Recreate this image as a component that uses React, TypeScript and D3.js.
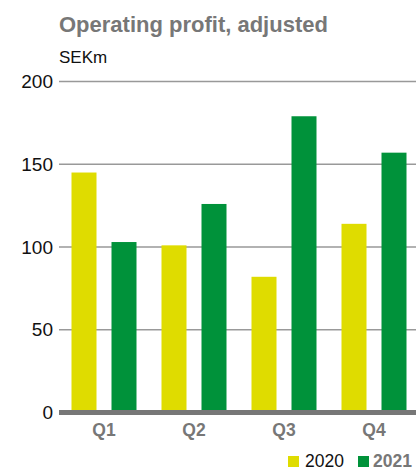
import React from "react";
import * as d3 from "d3";

const quarters = ["Q1", "Q2", "Q3", "Q4"];
const series = ["2020", "2021"];
const values2020 = [145, 101, 82, 114];
const values2021 = [103, 126, 179, 157];
const yTicks = [0, 50, 100, 150, 200];
const colors = ["#dfdc00", "#00923a"];

const W = 416;
const H = 470;

export default function App() {
  const x0 = d3.scaleBand<string>().domain(quarters).range([59, 419]).paddingInner(0).paddingOuter(0);
  const x1 = d3.scaleBand<string>().domain(series).range([12.5, 77.5]).paddingInner(0.375).paddingOuter(0);
  const y = d3.scaleLinear().domain([0, 200]).range([412.5, 81.5]);
  const data = [values2020, values2021];
  const font = "'Liberation Sans', Arial, Helvetica, sans-serif";

  return (
    <svg width={W} height={H} style={{ position: "absolute", left: 0, top: 0, display: "block", background: "#fff" }} fontFamily={font}>
      <text x={59} y={32} fontSize={22} fontWeight="bold" fill="#777">Operating profit, adjusted</text>
      <text x={59} y={63} fontSize={17} fill="#111">SEKm</text>
      {yTicks.filter((t) => t > 0).map((t) => (
        <line key={"g" + t} x1={59} x2={W} y1={y(t)} y2={y(t)} stroke="#999" strokeWidth={1.5} />
      ))}
      {yTicks.map((t) => (
        <text key={"t" + t} x={53} y={y(t)} dy="0.35em" textAnchor="end" fontSize={19} fill="#111">{t}</text>
      ))}
      {quarters.map((q, i) => (
        <g key={q} transform={`translate(${x0(q)},0)`}>
          {series.map((s, j) => (
            <rect key={s} x={x1(s)} width={x1.bandwidth()} y={y(data[j][i])} height={y(0) - y(data[j][i])} fill={colors[j]} />
          ))}
          <text x={x0.bandwidth() / 2} y={436} textAnchor="middle" fontSize={17.5} fontWeight="bold" fill="#777">{q}</text>
        </g>
      ))}
      <rect x={59} width={W - 59} y={y(0) - 2.5} height={5} fill="#777" />
      <rect x={288} y={456} width={11} height={11} fill={colors[0]} />
      <text x={305} y={467} fontSize={17.5} fill="#111">2020</text>
      <rect x={358} y={456} width={11} height={11} fill={colors[1]} />
      <text x={373} y={467} fontSize={17.5} fontWeight="bold" fill="#777">2021</text>
    </svg>
  );
}
